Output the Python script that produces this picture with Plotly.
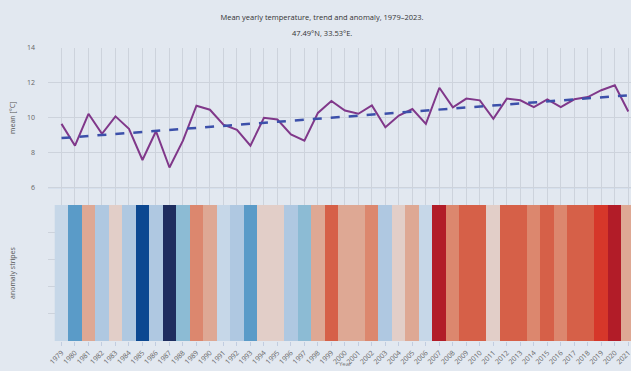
import numpy as np
import plotly.graph_objects as go

# ---- data -------------------------------------------------------------
years = list(range(1979, 2022))
mean_temp = [
    9.65, 8.40, 10.23, 9.08, 10.08, 9.37, 7.58, 9.23, 7.15, 8.69,     # 1979-1988
    10.69, 10.46, 9.61, 9.31, 8.40, 10.00, 9.90, 9.04, 8.69, 10.28,   # 1989-1998
    10.96, 10.42, 10.23, 10.71, 9.46, 10.13, 10.50, 9.65, 11.72, 10.60,  # 1999-2008
    11.10, 11.00, 9.94, 11.10, 11.00, 10.61, 11.06, 10.61, 11.06, 11.19,  # 2009-2018
    11.58, 11.86, 10.36,                                              # 2019-2021
]
baseline_period = (1981, 2010)
title_text = "Mean yearly temperature, trend and anomaly, 1979\u20132023."
location_text = "47.49\u00b0N, 33.53\u00b0E."

# anomaly bins (°C) and stripe colours
bin_edges = [-3.0, -2.4, -1.8, -1.25, -0.9, -0.27, 0.0, 0.37, 0.75, 1.0, 1.65, 1.85, 3.0]
bin_colors = ["#1e2d5f", "#0c4891", "#5a9bc8", "#8cbbd4", "#afc8e1", "#c6d7e8",
              "#e2cec8", "#dea894", "#dc876e", "#d66048", "#d6372a", "#b21c28"]

# ---- derived series ---------------------------------------------------
yrs = np.array(years, dtype=float)
temps = np.array(mean_temp)
in_base = (yrs >= baseline_period[0]) & (yrs <= baseline_period[1])
anomaly = temps - temps[in_base].mean()
slope, intercept = np.polyfit(yrs, temps, 1)
trend = slope * yrs + intercept

zmin, zmax = bin_edges[0], bin_edges[-1]
stepped = []
for lo, hi, col in zip(bin_edges[:-1], bin_edges[1:], bin_colors):
    stepped.append([(lo - zmin) / (zmax - zmin), col])
    stepped.append([(hi - zmin) / (zmax - zmin), col])

# ---- figure -----------------------------------------------------------
W, H = 631, 371
M_L, M_R, M_T, M_B = 48, 0, 48, 30
BG = "#e2e8f0"
GRID = "#cdd3dc"
FONT = "Open Sans, Arial, sans-serif"

fig = go.Figure()

fig.add_trace(go.Scatter(
    x=years, y=mean_temp, mode="lines", name="mean",
    line=dict(color="#80388a", width=2),
    xaxis="x2", yaxis="y2",
))
fig.add_trace(go.Scatter(
    x=years, y=trend, mode="lines", name="trend",
    line=dict(color="#3c50aa", width=2.5, dash="dash"),
    xaxis="x2", yaxis="y2",
))
fig.add_trace(go.Heatmap(
    z=[anomaly.tolist()], x=years, y=[0, 1],
    zmin=zmin, zmax=zmax, colorscale=stepped, showscale=False,
    name="anomaly", xaxis="x", yaxis="y",
))

x_range = [1978.0, 2021.2]
plot_h = H - M_T - M_B
split = (H - M_B - 205) / plot_h

fig.update_layout(
    width=W, height=H,
    margin=dict(l=M_L, r=M_R, t=M_T, b=M_B, autoexpand=False),
    paper_bgcolor=BG, plot_bgcolor=BG,
    font=dict(family=FONT, size=7, color="#666"),
    showlegend=False,
    title=dict(
        text=title_text, x=322 / W, xref="container", xanchor="center",
        y=1 - 17 / H, yref="container", yanchor="middle",
        font=dict(family=FONT, size=7.5, color="#333"),
    ),
    xaxis=dict(
        domain=[0, 1], anchor="y", range=x_range,
        tickmode="array", tickvals=years, ticktext=[str(y) for y in years],
        tickangle=-45, tickfont=dict(size=7, color="#666"),
        ticklabeloverflow="allow",
        ticks="outside", ticklen=4, tickcolor="#c2cde0",
        showgrid=False, zeroline=False, automargin=False,
    ),
    yaxis=dict(
        domain=[0, split], anchor="x", range=[0, 1],
        dtick=0.2, showticklabels=False, showgrid=True, gridcolor=GRID,
        zeroline=False, automargin=False,
    ),
    xaxis2=dict(
        domain=[0, 1], anchor="y2", range=x_range, matches="x",
        tick0=1979, dtick=1, showticklabels=False, ticks="",
        showgrid=True, gridcolor=GRID, zeroline=False, automargin=False,
    ),
    yaxis2=dict(
        domain=[split, 1], anchor="x2", range=[5, 14],
        tick0=0, dtick=2, ticks="", ticklabelstandoff=12,
        tickfont=dict(size=7, color="#666"),
        showgrid=True, gridcolor=GRID, zeroline=False, automargin=False,
    ),
    shapes=[dict(
        type="line", xref="x2 domain", yref="y2", x0=0, x1=1, y0=6, y1=6,
        line=dict(color="#b4c6e2", width=1.2), layer="below",
    )],
    annotations=[
        dict(text=location_text, xref="paper", yref="paper",
             x=(322 - M_L) / (W - M_L - M_R), y=(H - M_B - 33) / plot_h,
             xanchor="center", yanchor="middle", showarrow=False,
             font=dict(family=FONT, size=7.5, color="#333")),
        dict(text="mean [\u00b0C]", xref="paper", yref="paper",
             x=(12 - M_L) / (W - M_L - M_R), y=(H - M_B - 118) / plot_h,
             xanchor="center", yanchor="middle", textangle=-90, showarrow=False,
             font=dict(family=FONT, size=7, color="#555")),
        dict(text="anomaly stripes", xref="paper", yref="paper",
             x=(12 - M_L) / (W - M_L - M_R), y=(H - M_B - 273) / plot_h,
             xanchor="center", yanchor="middle", textangle=-90, showarrow=False,
             font=dict(family=FONT, size=7, color="#555")),
        dict(text="Year", xref="paper", yref="paper",
             x=(345 - M_L) / (W - M_L - M_R), y=-(370 - (H - M_B)) / plot_h,
             xanchor="center", yanchor="bottom", showarrow=False,
             font=dict(family=FONT, size=6, color="#777")),
    ],
)

fig.write_html("out.html")
